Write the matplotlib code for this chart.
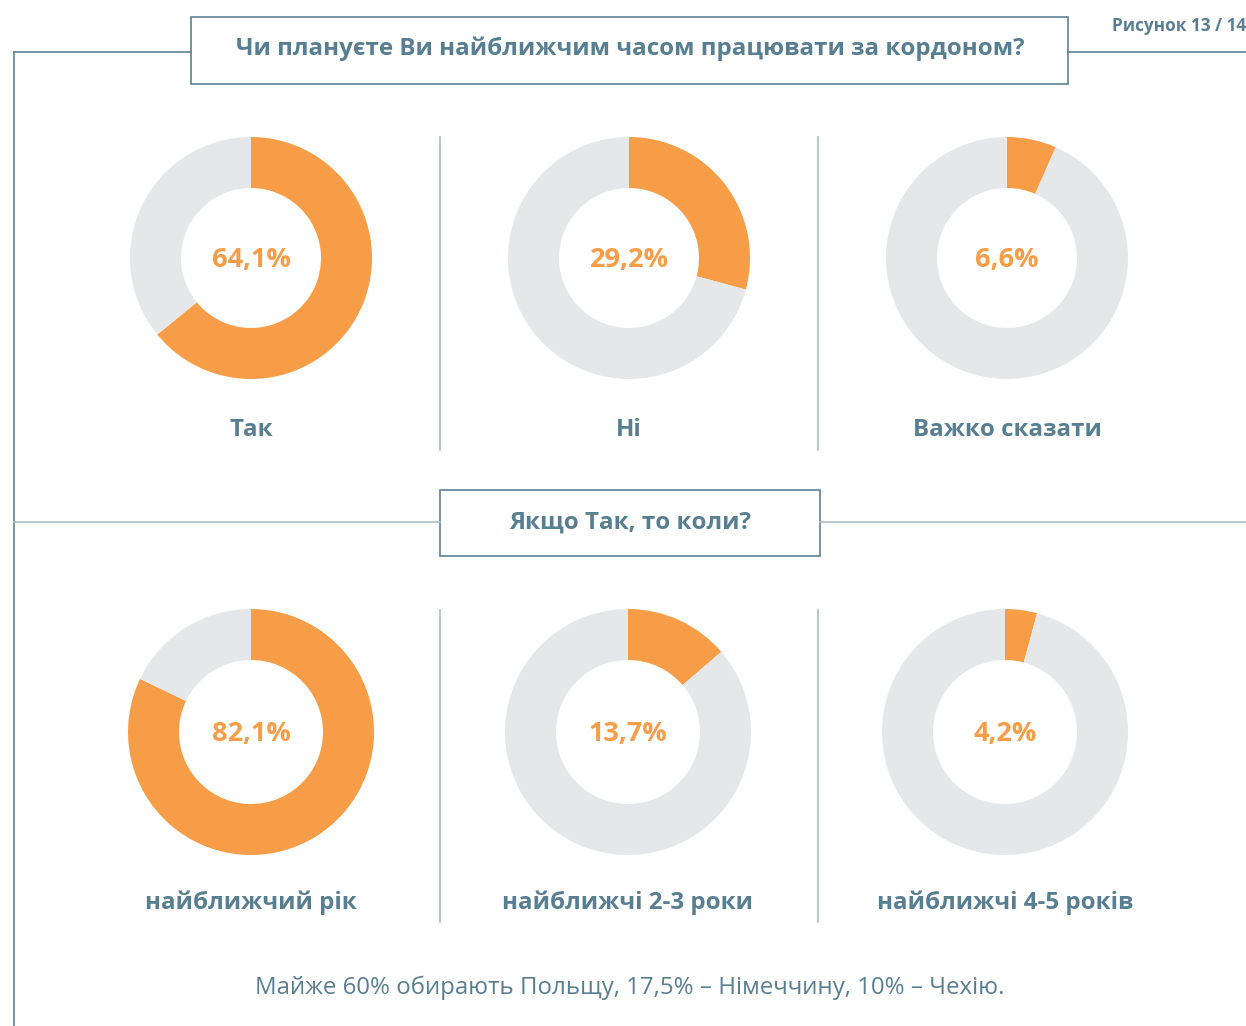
import matplotlib
matplotlib.use('Agg')
import matplotlib.pyplot as plt
from matplotlib.patches import Rectangle

plt.rcParams['font.family'] = ['Open Sans', 'DejaVu Sans']

# data
title_top = 'Чи плануєте Ви найближчим часом працювати за кордоном?'
title_mid = 'Якщо Так, то коли?'
fig_label = 'Рисунок 13 / 14'
footer = 'Майже 60% обирають Польщу, 17,5% – Німеччину, 10% – Чехію.'

labels_plan = ['Так', 'Ні', 'Важко сказати']
values_plan = [64.1, 29.2, 6.6]
labels_when = ['найближчий рік', 'найближчі 2-3 роки', 'найближчі 4-5 років']
values_when = [82.1, 13.7, 4.2]

ORANGE = '#F79D47'
GREY = '#E6E7E8'
TEXT = '#587F91'
LINE_DARK = '#5E8293'
LINE_LIGHT = '#A9BEC8'

W, H = 1246, 1026
fig = plt.figure(figsize=(W / 100, H / 100), dpi=100)

# pixel-coordinate axes for frame and text (y down)
ax = fig.add_axes([0, 0, 1, 1])
ax.set_xlim(0, W)
ax.set_ylim(H, 0)
ax.axis('off')

# overlay axes for the donuts (pie wants y up)
pax = fig.add_axes([0, 0, 1, 1])
pax.set_zorder(0)
ax.set_zorder(1)
ax.patch.set_visible(False)

# frame lines
ax.plot([14, 14], [52, H], color=LINE_DARK, lw=1.2)
ax.plot([14, 191], [52, 52], color=LINE_DARK, lw=1.2)
ax.plot([1068, W], [52, 52], color=LINE_DARK, lw=1.2)
ax.add_patch(Rectangle((191, 17), 877, 67, fill=False, ec=LINE_DARK, lw=1.2))
ax.text(630, 49, title_top, ha='center', va='center', fontsize=17.4,
        fontweight='bold', color=TEXT)
ax.text(1246, 26, fig_label, ha='right', va='center', fontsize=12.3,
        fontweight='bold', color=TEXT)

ax.plot([14, 440], [522, 522], color=LINE_LIGHT, lw=1.2)
ax.plot([820, W], [522, 522], color=LINE_LIGHT, lw=1.2)
ax.add_patch(Rectangle((440, 490), 380, 66, fill=False, ec=LINE_DARK, lw=1.2))
ax.text(630, 523, title_mid, ha='center', va='center', fontsize=17.4,
        fontweight='bold', color=TEXT)

# separators
for x in [440, 818]:
    ax.plot([x, x], [137, 450], color=LINE_LIGHT, lw=1.2)
    ax.plot([x, x], [610, 922], color=LINE_LIGHT, lw=1.2)


def donut(cx, cy, r, w, val, label, ly):
    pax.pie([val, 100 - val], colors=[ORANGE, GREY], startangle=90,
            counterclock=False, center=(cx, -cy), radius=r,
            wedgeprops=dict(width=w, edgecolor='none'), frame=True)
    ax.text(cx, cy + 2, f'{val:.1f}%'.replace('.', ','), ha='center', va='center',
            fontsize=19.5, fontweight='bold', color=ORANGE)
    ax.text(cx, ly + 2, label, ha='center', va='center', fontsize=17.4,
            fontweight='bold', color=TEXT)


xs1 = [251, 629, 1007]
xs2 = [251, 628, 1005]
for x, v, l in zip(xs1, values_plan, labels_plan):
    donut(x, 258, 121, 51, v, l, 428)
for x, v, l in zip(xs2, values_when, labels_when):
    donut(x, 732, 123, 51, v, l, 901)

pax.set_xlim(0, W)
pax.set_ylim(-H, 0)
pax.set_aspect('equal')
pax.axis('off')

ax.text(630, 988, footer, ha='center', va='center', fontsize=17.3,
        color=TEXT)

fig.savefig('out.png', dpi=100, facecolor='white')
